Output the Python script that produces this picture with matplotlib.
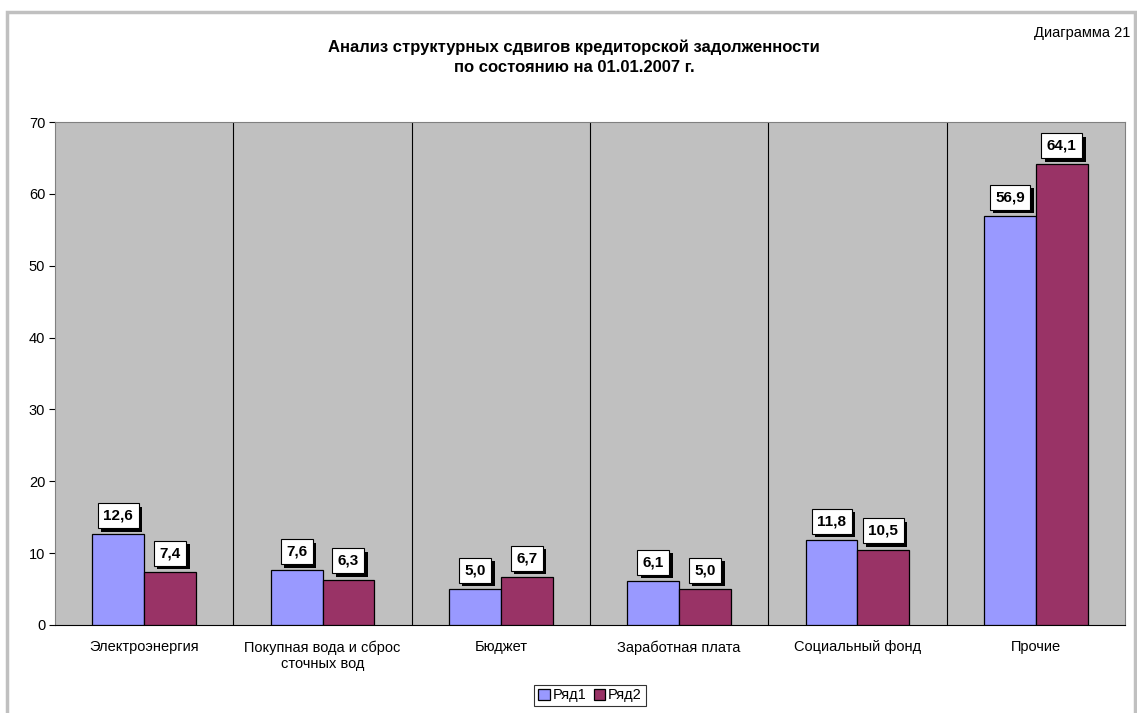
import matplotlib
matplotlib.use("Agg")
import matplotlib.pyplot as plt
import matplotlib.patheffects as pe
import numpy as np
from matplotlib.patches import Rectangle

plt.rcParams['font.family'] = ['Liberation Sans', 'DejaVu Sans']

categories = ["Электроэнергия", "Покупная вода и сброс\nсточных вод", "Бюджет",
              "Заработная плата", "Социальный фонд", "Прочие"]
series1 = [12.6, 7.6, 5.0, 6.1, 11.8, 56.9]
series2 = [7.4, 6.3, 6.7, 5.0, 10.5, 64.1]
series_names = ["Ряд1", "Ряд2"]
yticks = [0, 10, 20, 30, 40, 50, 60, 70]

W, H = 1137, 713
fig = plt.figure(figsize=(W / 100, H / 100), dpi=100)
fig.patch.set_facecolor("white")

# outer grey frame
fig.add_artist(Rectangle((7 / W, -0.05), (1135 - 7) / W, 1.05 - 12 / H,
                         transform=fig.transFigure, fill=False,
                         edgecolor="#C0C0C0", linewidth=2.5))

ax = fig.add_axes([55 / W, 1 - 625 / H, (1125 - 55) / W, (625 - 122) / H])
ax.set_facecolor("#C0C0C0")

x = np.arange(len(categories))
bw = 0.29
c1, c2 = "#9999FF", "#993366"
ax.bar(x - bw / 2, series1, bw, color=c1, edgecolor="black", linewidth=0.9,
       label=series_names[0], zorder=3)
ax.bar(x + bw / 2, series2, bw, color=c2, edgecolor="black", linewidth=0.9,
       label=series_names[1], zorder=3)

ax.set_xlim(-0.5, len(categories) - 0.5)
ax.set_ylim(0, 70)
ax.set_yticks(yticks)
ax.tick_params(axis='y', direction='out', length=4, labelsize=10.5, colors='black', pad=3)
ax.set_xticks(x)
ax.set_xticklabels(categories, fontsize=10.5, linespacing=1.25)
ax.tick_params(axis='x', length=0, pad=11)

for xb in np.arange(0.5, len(categories) - 0.5, 1):
    ax.axvline(xb, color="black", linewidth=0.8, zorder=2)

for s in ["top", "right"]:
    ax.spines[s].set_color("#808080")
    ax.spines[s].set_linewidth(0.8)
ax.spines["left"].set_color("#808080")
ax.spines["bottom"].set_color("black")

def label(xc, v):
    txt = f"{v:.1f}".replace(".", ",")
    t = ax.annotate(txt, (xc, v), xytext=(0, 13.5), textcoords="offset points",
                    ha="center", va="center", fontsize=11, fontweight="bold",
                    color="black",
                    bbox=dict(boxstyle="square,pad=0.36", fc="white", ec="black", lw=0.8),
                    zorder=5, annotation_clip=False)
    t.get_bbox_patch().set_path_effects([
        pe.SimplePatchShadow(offset=(2.5, -2.5), shadow_rgbFace="black", alpha=1),
        pe.Normal()])

for i in range(len(categories)):
    label(x[i] - bw / 2, series1[i])
    label(x[i] + bw / 2, series2[i])

fig.text(574 / W, 1 - 47 / H, "Анализ структурных сдвигов кредиторской задолженности",
         ha="center", va="center", fontsize=12, fontweight="bold")
fig.text(574 / W, 1 - 68 / H, "по состоянию на 01.01.2007 г.",
         ha="center", va="center", fontsize=12, fontweight="bold")
fig.text(1130 / W, 1 - 33 / H, "Диаграмма 21", ha="right", va="center", fontsize=10.5)

leg = ax.legend(loc="center", bbox_to_anchor=(0.5, -0.14), ncol=2, fontsize=10.5,
                frameon=True, fancybox=False, edgecolor="black", handlelength=0.8,
                handleheight=0.8, handletextpad=0.2, columnspacing=0.5,
                borderpad=0.25, borderaxespad=0)
leg.get_frame().set_linewidth(0.8)

fig.savefig("out.png", dpi=100)
